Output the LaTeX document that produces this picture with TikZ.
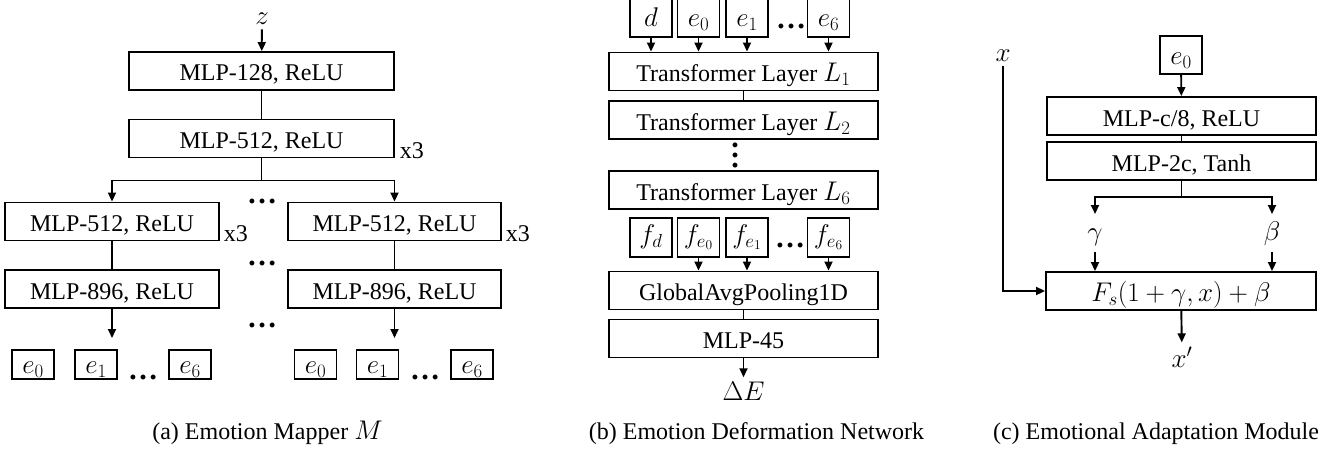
\RequirePackage{fix-cm}
\documentclass[tikz,border=0pt]{standalone}
\usepackage{fontspec}
\setmainfont{Liberation Serif}
\usetikzlibrary{arrows.meta}

% math set a little larger than the surrounding text
\newcommand{\mth}[1]{{\fontsize{27}{30}\selectfont$#1$}}

\tikzset{
  blk/.style={draw, minimum height=38pt, inner sep=0pt, text height=22pt, text depth=2pt},
  tok/.style={draw, minimum width=42pt, minimum height=29pt, inner sep=0pt, text height=20pt, text depth=2pt},
  ftok/.style={tok, minimum height=39pt, text height=18pt, text depth=7pt},
  rep/.style={anchor=base west, inner sep=0pt},
  lbl/.style={anchor=base},
  dotsym/.style={inner sep=0pt, font=\fontsize{30}{30}\selectfont\bfseries},
  captext/.style={anchor=base},
}

\begin{document}
\begin{tikzpicture}[x=1pt, y=-1pt, line width=1.9pt,
  font=\fontsize{24}{29}\selectfont,
  >={Triangle[length=9pt,width=8pt]}]
\useasboundingbox (0,0) rectangle (1332,452);
\fill[white] (0,0) rectangle (1332,452);

% ---------- (a) emotion mapper ----------
\node[lbl] (z) at (262,25) {\mth{z}};
\node[blk, minimum width=265pt] (a128) at (261.5,71) {MLP-128, ReLU};
\node[blk, minimum width=265pt] (a512) at (261.5,138.5) {MLP-512, ReLU};
\node[rep] (a512r) at (399,158) {x3};
\node[blk, minimum width=214pt] (l512) at (112,221.5) {MLP-512, ReLU};
\node[rep] (l512r) at (223,241) {x3};
\node[blk, minimum width=213pt] (r512) at (394.5,221.5) {MLP-512, ReLU};
\node[rep] (r512r) at (505,241) {x3};
\node[blk, minimum width=214pt] (l896) at (112,289) {MLP-896, ReLU};
\node[blk, minimum width=213pt] (r896) at (394.5,289) {MLP-896, ReLU};
\coordinate (lout) at (112,338);
\coordinate (rout) at (394.5,338);

\node[dotsym] (cd1) at (262,201) {…};
\node[dotsym] (cd2) at (262,263) {…};
\node[dotsym] (cd3) at (262,325) {…};

\node[tok] (le0) at (33,364.5) {\mth{e_0}};
\node[tok] (le1) at (96,364.5) {\mth{e_1}};
\node[dotsym] (ld) at (143,377) {…};
\node[tok] (le6) at (190,364.5) {\mth{e_6}};
\node[tok] (re0) at (315.5,364.5) {\mth{e_0}};
\node[tok] (re1) at (377.5,364.5) {\mth{e_1}};
\node[dotsym] (rd) at (425,377) {…};
\node[tok] (re6) at (472,364.5) {\mth{e_6}};

\draw[->] (z) -- (a128);
\draw (a128) -- (a512);
\draw[->] (a512.south) -- ++(0,22) -| (l512.north);
\draw[->] (a512.south) -- ++(0,22) -| (r512.north);
\draw (l512) -- (l896);
\draw (r512) -- (r896);
\draw[->] (l896) -- (lout);
\draw[->] (r896) -- (rout);

\node[captext] (capa) at (267.5,439) {(a) Emotion Mapper \mth{M}};

% ---------- (b) emotion deformation network ----------
\node[tok, minimum height=39pt] (bd)  at (651,17.5) {\mth{d}};
\node[tok, minimum height=39pt] (be0) at (698.5,17.5) {\mth{e_0}};
\node[tok, minimum height=39pt] (be1) at (747,17.5) {\mth{e_1}};
\node[dotsym] (bdots) at (791,26) {…};
\node[tok, minimum height=39pt] (be6) at (828.5,17.5) {\mth{e_6}};

\node[blk, minimum width=269pt] (L1) at (743.5,71.5) {Transformer Layer \mth{L_1}};
\node[blk, minimum width=269pt] (L2) at (743.5,120) {Transformer Layer \mth{L_2}};
\node[dotsym, rotate=90] (vd) at (735,155) {…};
\node[blk, minimum width=269pt] (L6) at (743.5,190) {Transformer Layer \mth{L_6}};

\node[ftok] (fd)  at (651,237.5) {\mth{f_d}};
\node[ftok] (fe0) at (698.5,237.5) {\mth{f_{e_0}}};
\node[ftok] (fe1) at (747,237.5) {\mth{f_{e_1}}};
\node[dotsym] (fdots) at (790,245) {…};
\node[ftok] (fe6) at (828.5,237.5) {\mth{f_{e_6}}};

\node[blk, minimum width=269pt] (gap) at (743.5,290.5) {GlobalAvgPooling1D};
\node[blk, minimum width=269pt] (m45) at (743.5,338.5) {MLP-45};
\node[lbl] (dE) at (743.5,400) {\mth{\Delta E}};

\foreach \n in {bd,be0,be1,be6} \draw[->] (\n) -- (\n |- L1.north);
\draw (L1) -- (L2);
\foreach \n in {fe0,fe1,fe6} \draw[->] (\n) -- (\n |- gap.north);
\draw (gap) -- (m45);
\draw[->] (m45) -- (dE);

\node[captext] (capb) at (756.5,439) {(b) Emotion Deformation Network};

% ---------- (c) emotional adaptation module ----------
\node[lbl] (xin) at (1003,62) {\mth{x}};
\node[tok, minimum height=38pt] (ce0) at (1181,55) {\mth{e_0}};
\node[blk, minimum width=269pt] (c1) at (1181.5,116) {MLP-c/8, ReLU};
\node[blk, minimum width=269pt] (c2) at (1181.5,161) {MLP-2c, Tanh};
\node[anchor=north, inner sep=0pt, text height=26pt, text depth=10pt] (gam) at (1095,214) {\mth{\gamma}};
\node[anchor=north, inner sep=0pt, text height=26pt, text depth=10pt] (bet) at (1272,214) {\mth{\beta}};
\node[blk, minimum width=270pt] (F) at (1181,291) {\mth{F_s(1+\gamma, x)+\beta}};
\node[lbl] (xo) at (1182,367) {\mth{x'}};

\draw[->] (ce0) -- (c1);
\draw (c1) -- (c2);
\draw[->] (c2.south) -- ++(0,16) -| (gam.north);
\draw[->] (c2.south) -- ++(0,16) -| (bet.north);
\draw[->] (gam) -- (gam |- F.north);
\draw[->] (bet) -- (bet |- F.north);
\draw[->] (xin.south) |- (F.west);
\draw[->] (F) -- (xo);

\node[captext] (capc) at (1156,439) {(c) Emotional Adaptation Module};
\end{tikzpicture}
\end{document}
